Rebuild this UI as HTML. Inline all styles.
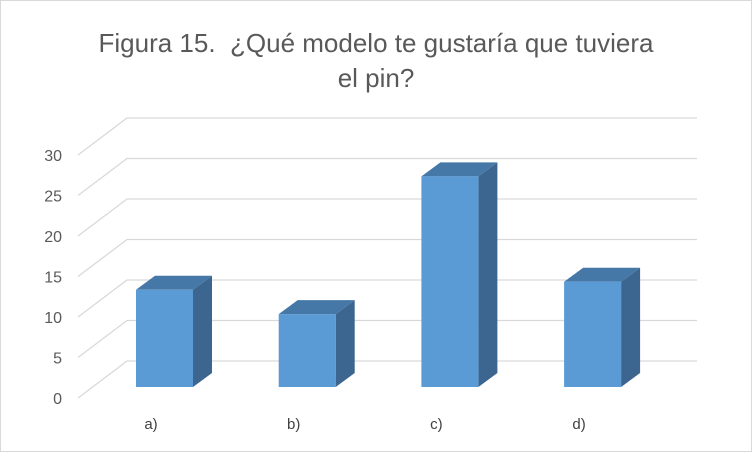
<!DOCTYPE html>
<html><head><meta charset="utf-8"><style>
body{margin:0;background:#fff}
#c{position:relative;width:750px;height:450px;border:1px solid #d9d9d9;font-family:"Liberation Sans",sans-serif;color:#595959;overflow:hidden}
#t{position:absolute;left:0;top:25px;width:750px;text-align:center;font-size:26px;line-height:35px}
</style></head><body>
<div id="c">
<div id="t">Figura 15.&nbsp; ¿Qué modelo te gustaría que tuviera<br>el pin?</div>
<svg id="s" width="752" height="452" style="position:absolute;left:-1px;top:-1px"></svg>
</div>
<script>
const categories=["a)","b)","c)","d)"];
const values=[12,9,26,13];
const ticks=[0,5,10,15,20,25,30];
const NS="http://www.w3.org/2000/svg";
const s=document.getElementById('s');
function yF(v){return 398-v*8.1;}
function xB(i){return 136+i*142.7;}
function mk(tag,attrs,name){const e=document.createElementNS(NS,tag);for(const k in attrs)e.setAttribute(k,attrs[k]);


s.appendChild(e);return e;}
ticks.forEach(v=>{
  const y=yF(v);
  mk('polyline',{points:`78,${y} 127,${y-37} 697,${y-37}`,fill:'none',stroke:'#d9d9d9','stroke-width':1.3},'gridline');
});
ticks.forEach(v=>{
  const t=mk('text',{x:62,y:yF(v)+6,'text-anchor':'end','font-size':16,fill:'#595959'},'y-tick-label');t.textContent=v;
});
const bot=387,w=57,dx=19,dy=-14;
values.forEach((v,i)=>{
  const x=xB(i),top=bot-v*8.1;
  mk('polygon',{points:`${x+w},${top} ${x+w+dx},${top+dy} ${x+w+dx},${bot+dy} ${x+w},${bot}`,fill:'#3c6690'},'bar-side');
  mk('polygon',{points:`${x},${top} ${x+dx},${top+dy} ${x+w+dx},${top+dy} ${x+w},${top}`,fill:'#4577a7'},'bar-top');
  mk('rect',{x:x,y:top,width:w,height:bot-top,fill:'#5b9bd5'},'bar-'+categories[i].replace(')',''));
  const t=mk('text',{x:x+15,y:429,'text-anchor':'middle','font-size':15,fill:'#404040'},'x-tick-label');t.textContent=categories[i];
});
</script>
</body></html>
